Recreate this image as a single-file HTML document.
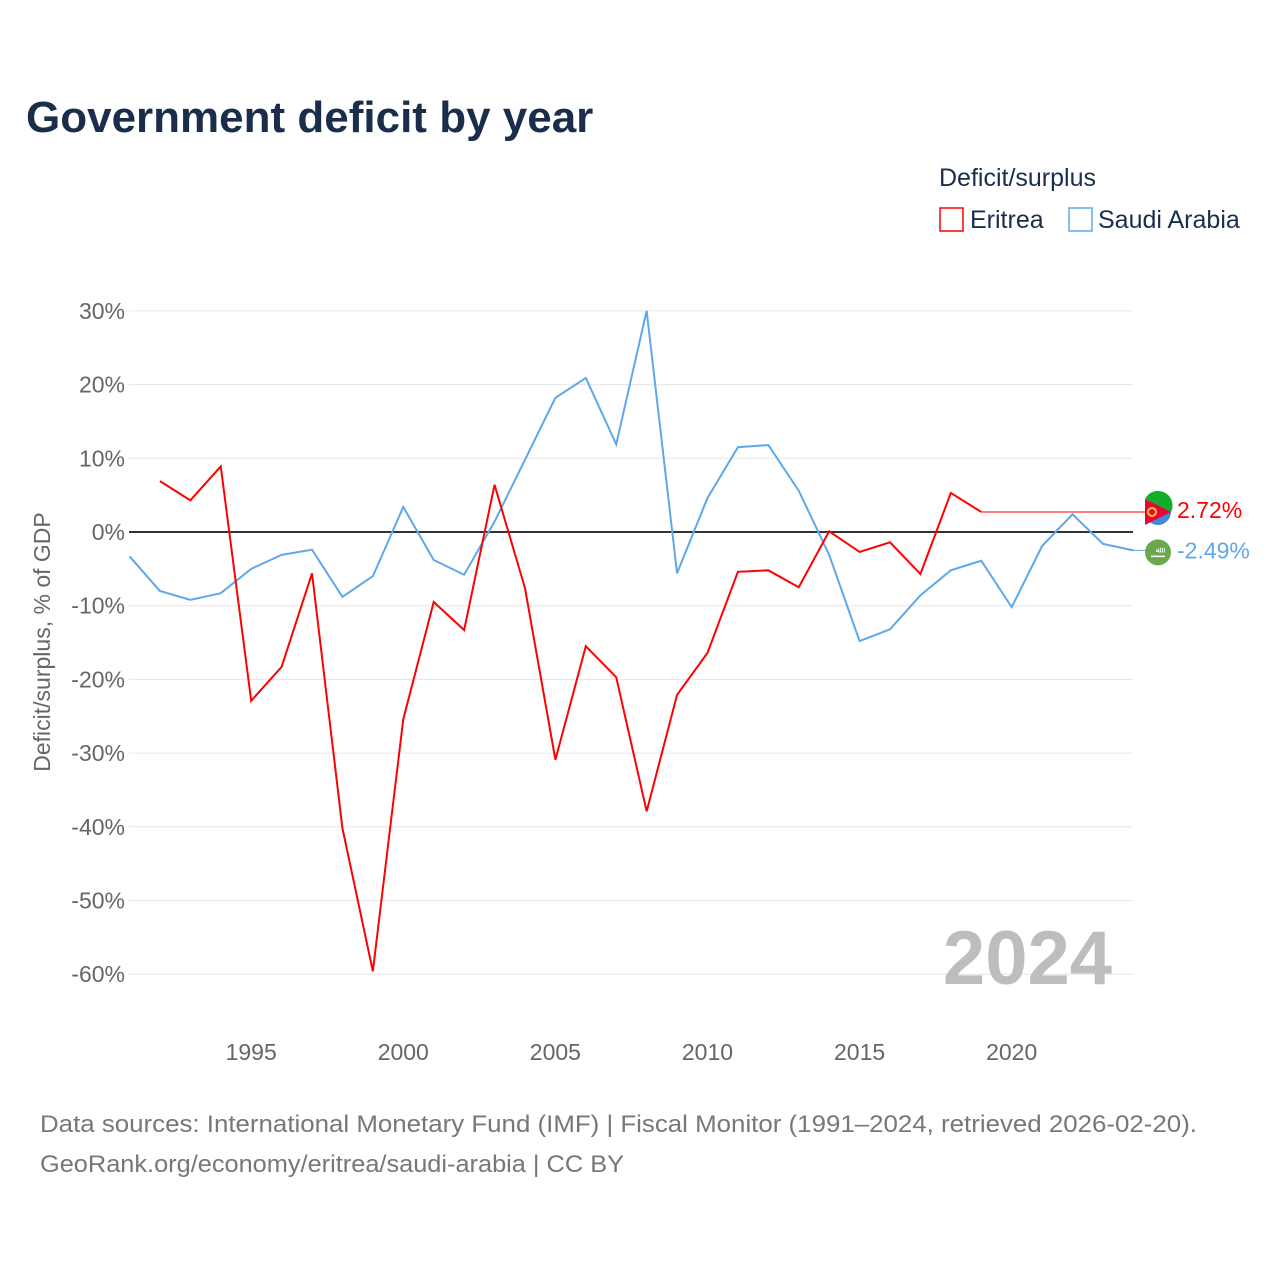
<!DOCTYPE html>
<html><head><meta charset="utf-8"><style>
body{margin:0;background:#fff;font-family:"Liberation Sans",sans-serif;}
#wrap{position:relative;width:1280px;height:1280px;overflow:hidden;}
</style></head><body>
<div id="wrap">
<svg id="chart" width="1280" height="1280">
<text x="26" y="132" font-size="44" font-weight="bold" fill="#1a2e4c">Government deficit by year</text>
<text x="939" y="186" font-size="25" fill="#1a2e4c">Deficit/surplus</text>
<g><rect x="940" y="208" width="23" height="23" fill="none" stroke="#f00" stroke-width="1.5"/><text x="970" y="228" font-size="25" fill="#1a2e4c">Eritrea</text></g>
<g><rect x="1069" y="208" width="23" height="23" fill="none" stroke="#5ea8ea" stroke-width="1.5"/><text x="1098" y="228" font-size="25" fill="#1a2e4c">Saudi Arabia</text></g>
<text transform="translate(50,642) rotate(-90)" text-anchor="middle" font-size="23" fill="#666">Deficit/surplus, % of GDP</text>
<g id="grid"></g><g id="xt"></g><g id="series"></g>
<text x="1112" y="984" text-anchor="end" font-size="76" font-weight="bold" fill="#bdbdbd">2024</text>
<text x="40" y="1132" font-size="24" fill="#777" textLength="1157" lengthAdjust="spacingAndGlyphs">Data sources: International Monetary Fund (IMF) | Fiscal Monitor (1991–2024, retrieved 2026-02-20).</text>
<text x="40" y="1172" font-size="24" fill="#777" textLength="584" lengthAdjust="spacingAndGlyphs">GeoRank.org/economy/eritrea/saudi-arabia | CC BY</text>
</svg>
</div>
<script>
const yTicks=[30,20,10,0,-10,-20,-30,-40,-50,-60];
const xTicks=[1995,2000,2005,2010,2015,2020];
const saudiYears=[1991,1992,1993,1994,1995,1996,1997,1998,1999,2000,2001,2002,2003,2004,2005,2006,2007,2008,2009,2010,2011,2012,2013,2014,2015,2016,2017,2018,2019,2020,2021,2022,2023,2024];
const saudiValues=[-3.3,-8.0,-9.2,-8.3,-5.0,-3.1,-2.4,-8.8,-6.0,3.4,-3.8,-5.8,1.4,9.8,18.2,20.9,11.9,30.0,-5.6,4.6,11.5,11.8,5.6,-3.1,-14.8,-13.2,-8.6,-5.2,-3.9,-10.2,-1.9,2.4,-1.6,-2.49];
const eritreaYears=[1992,1993,1994,1995,1996,1997,1998,1999,2000,2001,2002,2003,2004,2005,2006,2007,2008,2009,2010,2011,2012,2013,2014,2015,2016,2017,2018,2019];
const eritreaValues=[6.9,4.3,8.9,-22.9,-18.3,-5.6,-40.2,-59.6,-25.4,-9.5,-13.3,6.4,-7.6,-30.9,-15.5,-19.7,-37.9,-22.1,-16.4,-5.4,-5.2,-7.5,0.1,-2.7,-1.4,-5.7,5.3,2.72];
const NS="http://www.w3.org/2000/svg";
const X=y=>129.5+(y-1991)*30.42;
const Y=v=>532-v*7.37;
function mk(t,a,p){const e=document.createElementNS(NS,t);for(const k in a)e.setAttribute(k,a[k]);p.appendChild(e);return e;}
const grid=document.getElementById('grid'),xt=document.getElementById('xt'),ser=document.getElementById('series');
yTicks.forEach(v=>{
 const l=mk('line',{x1:129,x2:1133,y1:Y(v),y2:Y(v),stroke:v===0?'#333':'#e6e6e6','stroke-width':v===0?2:1},grid);
 
 
 const t=mk('text',{x:125,y:Y(v)+8,'text-anchor':'end','font-size':23,fill:'#666'},grid);t.textContent=v+'%';
 
 
});
xTicks.forEach(y=>{
 const t=mk('text',{x:X(y),y:1060,'text-anchor':'middle','font-size':23,fill:'#666'},xt);t.textContent=y;
 
 
});
function path(ys,vs){return ys.map((y,i)=>(i?'L':'M')+X(y)+' '+Y(vs[i])).join(' ');}
const sp=mk('path',{d:path(saudiYears,saudiValues),fill:'none',stroke:'#5ea8ea','stroke-width':2},ser);


const ep=mk('path',{d:path(eritreaYears,eritreaValues),fill:'none',stroke:'#f00','stroke-width':2},ser);


const eLast=eritreaValues[eritreaValues.length-1],sLast=saudiValues[saudiValues.length-1];
const ex=mk('line',{x1:X(eritreaYears[eritreaYears.length-1]),x2:1150,y1:Y(eLast),y2:Y(eLast),stroke:'#f00','stroke-width':1},ser);


const sx=mk('line',{x1:1133,x2:1150,y1:Y(sLast),y2:Y(sLast),stroke:'#5ea8ea','stroke-width':1},ser);


const ef=mk('g',{},ser);


mk('circle',{cx:1158,cy:Y(eLast),r:13,fill:'#4189dd'},ef);
mk('path',{d:`M1145 ${Y(eLast)-13} A13 13 0 0 1 1171 ${Y(eLast)} Z`,fill:'#12ad2b'},ef);
mk('path',{d:`M1145 ${Y(eLast)-13} L1171 ${Y(eLast)} L1145 ${Y(eLast)+13} Z`,fill:'#ea0437'},ef);
mk('circle',{cx:1152,cy:Y(eLast),r:4,fill:'none',stroke:'#ffc726','stroke-width':2},ef);
const sf=mk('g',{},ser);


mk('circle',{cx:1158,cy:Y(sLast)+2,r:13,fill:'#6aa84f'},sf);
mk('line',{x1:1151,x2:1165,y1:Y(sLast)+6,y2:Y(sLast)+6,stroke:'#fff','stroke-width':1.5},sf);
mk('text',{x:1158,y:Y(sLast)+2,'text-anchor':'middle','font-size':8,fill:'#fff'},sf).textContent='ﷲ';
const el=mk('text',{x:1177,y:Y(eLast)+6,'font-size':23,fill:'#f00'},ser);el.textContent=eLast.toFixed(2)+'%';


const sl=mk('text',{x:1177,y:Y(sLast)+8,'font-size':23,fill:'#5ea8ea'},ser);sl.textContent=sLast.toFixed(2)+'%';


</script>
</body></html>
